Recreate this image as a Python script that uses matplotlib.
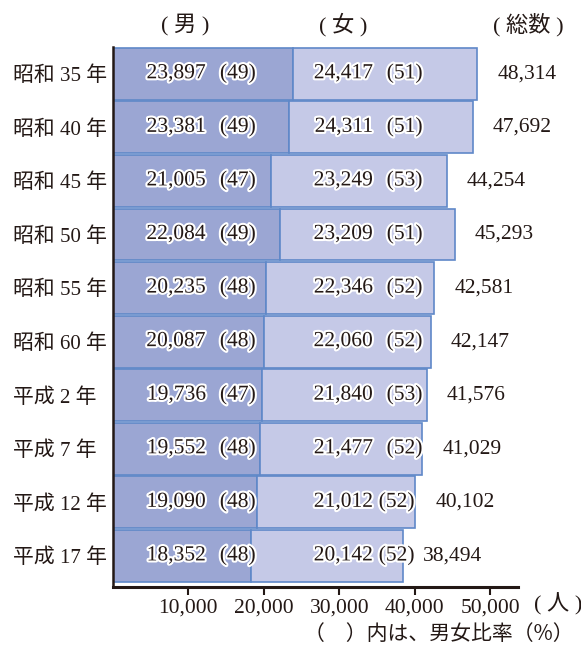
import matplotlib
matplotlib.use("Agg")
import matplotlib.pyplot as plt
import matplotlib.patheffects as pe

years = ["昭和 35 年", "昭和 40 年", "昭和 45 年", "昭和 50 年", "昭和 55 年",
         "昭和 60 年", "平成 2 年", "平成 7 年", "平成 12 年", "平成 17 年"]
male = [23897, 23381, 21005, 22084, 20235, 20087, 19736, 19552, 19090, 18352]
female = [24417, 24311, 23249, 23209, 22346, 22060, 21840, 21477, 21012, 20142]
total = [48314, 47692, 44254, 45293, 42581, 42147, 41576, 41029, 40102, 38494]
male_pct = [49, 49, 47, 49, 48, 48, 47, 48, 48, 48]
female_pct = [51, 51, 53, 51, 52, 52, 53, 52, 52, 52]
xticks = [10000, 20000, 30000, 40000, 50000]

MALE_C = "#9ba6d3"
FEMALE_C = "#c5c9e7"
EDGE_C = "#5f88c8"
INK = "#231815"
FONT = ["Liberation Serif", "Noto Sans CJK JP", "DejaVu Sans"]
plt.rcParams["font.family"] = FONT

fig = plt.figure(figsize=(5.81, 6.49), dpi=100)
ax = fig.add_axes([113 / 581, 1 - 587 / 649, 405 / 581, 540 / 649])

y = list(range(len(years)))
ax.barh(y, male, height=0.97, color=MALE_C, edgecolor=EDGE_C, linewidth=1.2)
ax.barh(y, female, left=male, height=0.97, color=FEMALE_C, edgecolor=EDGE_C, linewidth=1.2)

halo = [pe.withStroke(linewidth=3, foreground="white")]
for i in y:
    ax.text(12300, i, f"{male[i]:,}", ha="right", va="center", fontsize=15.5,
            color=INK, path_effects=halo)
    ax.text(18950, i, f"({male_pct[i]})", ha="right", va="center", fontsize=15.5,
            color=INK, path_effects=halo)
    ax.text(34450, i, f"{female[i]:,}", ha="right", va="center", fontsize=15.5,
            color=INK, path_effects=halo)
    ax.text(41050 if i < 8 else 40000, i, f"({female_pct[i]})", ha="right",
            va="center", fontsize=15.5, color=INK, path_effects=halo)
    ax.text(total[i] + 2650, i, f"{total[i]:,}", ha="left", va="center",
            fontsize=15.5, color=INK)

ax.set_xlim(0, 53700)
ax.set_ylim(9.58, -0.5)
ax.set_yticks(y)
ax.set_yticklabels(years, fontsize=15, color=INK, ha="left")
ax.set_xticks(xticks)
ax.set_xticklabels([f"{v:,}" for v in xticks], fontsize=15.5, color=INK)
ax.tick_params(axis="y", length=0, pad=(113 - 13) * 0.72)
ax.tick_params(axis="x", direction="out", length=6, width=1.5, color=INK, pad=2)
for s in ["top", "right"]:
    ax.spines[s].set_visible(False)
ax.spines["left"].set_linewidth(1.8)
ax.spines["left"].set_color(INK)
ax.spines["bottom"].set_linewidth(2.2)
ax.spines["bottom"].set_color(INK)

fig.text(185 / 581, 1 - 25 / 649, "( 男 )", ha="center", va="center", fontsize=16, color=INK)
fig.text(343 / 581, 1 - 25 / 649, "( 女 )", ha="center", va="center", fontsize=16, color=INK)
fig.text(528 / 581, 1 - 25 / 649, "( 総数 )", ha="center", va="center", fontsize=16, color=INK)
fig.text(558 / 581, 1 - 604 / 649, "( 人 )", ha="center", va="center", fontsize=16, color=INK)
fig.text(574 / 581, 1 - 634 / 649, "（　）内は、男女比率（%）", ha="right", va="center",
         fontsize=15, color=INK, family=["Noto Sans CJK JP", "DejaVu Sans"])

fig.savefig("out.png", dpi=100, facecolor="white")
